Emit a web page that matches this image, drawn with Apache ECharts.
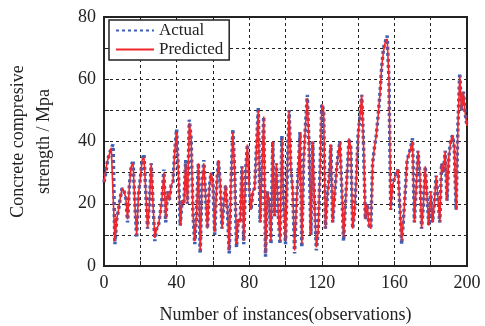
<!DOCTYPE html>
<html>
<head>
<meta charset="utf-8">
<script src="https://cdn.jsdelivr.net/npm/echarts@6/dist/echarts.min.js"></script>
<style>
  html, body { margin: 0; padding: 0; background: #fff; }
  #chart { width: 485px; height: 326px; }
</style>
</head>
<body>
<div id="chart"></div>
<script>
// observations 0..200
const actual = [
  27, 30, 34, 36, 38, 39, 7, 15, 18, 22,
  25, 24, 22, 14, 26, 32, 34, 20, 9, 23,
  28, 34, 36, 24, 12, 20, 33, 20, 8, 12,
  13, 17, 22, 31, 14, 24, 21, 26, 27, 37,
  44, 30, 13, 21, 20, 34, 20, 47, 41, 17,
  7, 17, 33, 4, 26, 34, 22, 12, 25, 30,
  27, 10, 25, 34, 27, 12, 20, 26, 18, 4,
  27, 44, 30, 6, 15, 14, 32, 7, 30, 39,
  25, 18, 24, 25, 38, 51, 14, 30, 48, 3,
  24, 21, 7, 40, 16, 33, 17, 7, 42, 20,
  7, 30, 50, 31, 24, 4, 20, 30, 43, 6,
  34, 45, 55, 38, 10, 40, 20, 5, 11, 30,
  52, 50, 12, 22, 28, 39, 14, 22, 30, 36,
  40, 25, 8, 20, 30, 41, 38, 12, 17, 28,
  42, 48, 55, 39, 15, 20, 13, 12, 33, 38,
  42, 48, 55, 64, 70, 72, 74, 60, 18, 26,
  28, 30, 31, 19, 7, 15, 24, 34, 36, 38,
  41, 14, 25, 37, 30, 12, 20, 32, 22, 13,
  24, 14, 20, 29, 22, 14, 33, 30, 37, 21,
  35, 40, 42, 38, 18, 45, 62, 50, 56, 49,
  45
];
const predicted = [
  27, 31, 34, 36, 38, 38, 8, 15, 18, 22,
  25, 24, 22, 15, 26, 32, 33, 20, 10, 23,
  28, 34, 35, 24, 12, 20, 33, 20, 9, 12,
  13, 17, 22, 30, 15, 24, 21, 26, 27, 37,
  43, 30, 13, 21, 20, 33, 20, 46, 41, 17,
  8, 17, 33, 5, 26, 33, 22, 12, 25, 30,
  27, 11, 25, 34, 27, 12, 20, 26, 18, 5,
  27, 43, 30, 7, 15, 14, 32, 8, 30, 39,
  25, 18, 24, 25, 38, 50, 14, 30, 48, 4,
  24, 21, 8, 40, 16, 33, 17, 8, 41, 20,
  8, 30, 50, 31, 24, 5, 20, 30, 43, 7,
  34, 45, 54, 38, 10, 40, 20, 6, 11, 30,
  52, 50, 12, 22, 28, 39, 14, 22, 30, 36,
  40, 25, 9, 20, 30, 41, 38, 12, 17, 28,
  42, 48, 55, 39, 15, 20, 13, 12, 33, 38,
  42, 48, 55, 64, 69, 72, 73, 60, 18, 26,
  28, 30, 31, 19, 8, 15, 24, 34, 36, 38,
  40, 14, 25, 37, 30, 12, 20, 32, 22, 13,
  24, 14, 20, 29, 22, 14, 33, 30, 37, 21,
  35, 40, 42, 38, 18, 45, 61, 50, 56, 49,
  45
];
const xTickLabels = ['0', '40', '80', '120', '160', '200'];
const yTickLabels = ['0', '20', '40', '60', '80'];

const serif = 'Liberation Serif';
const chart = echarts.init(document.getElementById('chart'));

chart.setOption({
  animation: false,
  backgroundColor: '#fff',
  textStyle: { fontFamily: serif },
  grid: {
    left: 104, right: 18, top: 17, bottom: 60,
    outerBoundsMode: 'none', containLabel: false,
    show: true, borderColor: '#222', borderWidth: 2, backgroundColor: 'transparent'
  },
  legend: {
    orient: 'vertical',
    left: 109, top: 20,
    padding: [2, 6, 2, 6],
    itemGap: 2,
    itemWidth: 38, itemHeight: 10,
    backgroundColor: '#fff',
    borderColor: '#222', borderWidth: 1.5,
    itemStyle: { opacity: 0 },
    textStyle: { fontFamily: serif, fontSize: 17, color: '#222' },
    data: ['Actual', 'Predicted']
  },
  xAxis: {
    type: 'value',
    min: 0, max: 200, interval: 20,
    name: 'Number of instances(observations)',
    nameLocation: 'middle', nameGap: 40,
    nameTextStyle: { fontFamily: serif, fontSize: 18, color: '#222' },
    axisLine: { lineStyle: { color: '#222', width: 2 } },
    axisTick: { inside: true, length: 5, lineStyle: { color: '#222' } },
    axisLabel: {
      fontFamily: serif, fontSize: 18, color: '#222', margin: 8,
      formatter: v => xTickLabels.includes(String(v)) ? String(v) : ''
    },
    splitLine: { show: true, lineStyle: { color: '#222', type: [3, 3], width: 1 } }
  },
  yAxis: {
    type: 'value',
    min: 0, max: 80, interval: 10,
    name: 'Concrete compresive\nstrength / Mpa',
    nameLocation: 'middle', nameGap: 47,
    nameTextStyle: { fontFamily: serif, fontSize: 18, color: '#222', lineHeight: 26 },
    axisLine: { lineStyle: { color: '#222', width: 2 } },
    axisTick: { inside: true, length: 5, lineStyle: { color: '#222' } },
    axisLabel: {
      fontFamily: serif, fontSize: 18, color: '#222', margin: 8,
      formatter: v => yTickLabels.includes(String(v)) ? String(v) : ''
    },
    splitLine: { show: true, lineStyle: { color: '#222', type: [3, 3], width: 1 } }
  },
  series: [
    {
      name: 'Actual',
      type: 'line',
      symbol: 'none',
      data: actual.map((v, i) => [i, v]),
      itemStyle: { color: '#3d5fb4' },
      lineStyle: { color: '#3d5fb4', width: 3.5, type: [3, 3] },
      z: 2
    },
    {
      name: 'Predicted',
      type: 'line',
      symbol: 'none',
      data: predicted.map((v, i) => [i, v]),
      itemStyle: { color: '#f0262c' },
      lineStyle: { color: '#f0262c', width: 1.6 },
      z: 3
    }
  ]
});
</script>
</body>
</html>
